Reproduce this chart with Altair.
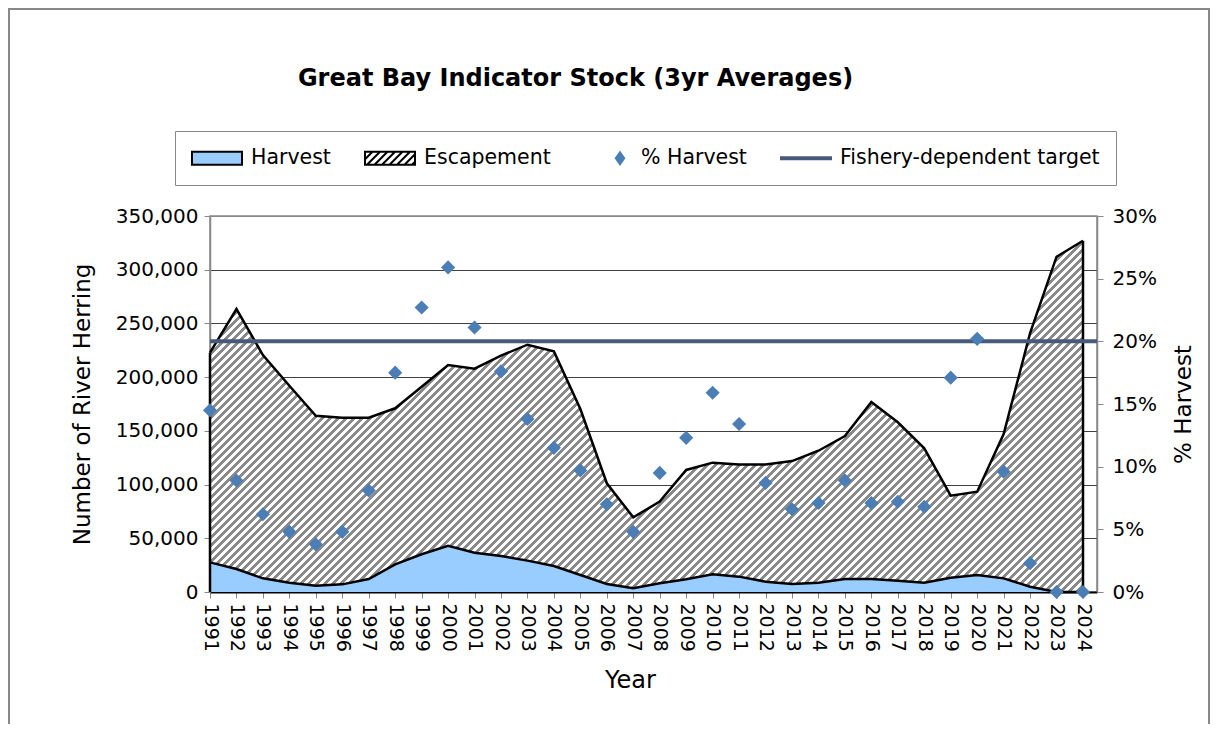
import altair as alt
import pandas as pd

# ---------------- data ----------------
YEARS = list(range(1991, 2025))
HARVEST = [27600, 21400, 12700, 8700, 5900, 7100, 12100, 25800, 35100, 43100,
           36600, 33500, 29200, 24200, 15800, 7400, 3400, 8100, 11800, 16500,
           14300, 9600, 7400, 8700, 12100, 12100, 10500, 8700, 13300, 15800,
           12700, 4900, 0, 0]
ESCAPEMENT = [195200, 242000, 207900, 183300, 158200, 155200, 150200, 145200, 156000, 168200,
              171300, 186500, 201000, 199800, 154500, 93800, 66100, 76000, 101800, 103900,
              104500, 109200, 114500, 122800, 133100, 164800, 147500, 125000, 76400, 77600,
              134400, 236100, 312100, 327000]
PCT_HARVEST = [14.5, 8.9, 6.2, 4.8, 3.8, 4.8, 8.1, 17.5, 22.7, 25.9,
               21.1, 17.6, 13.8, 11.5, 9.7, 7.0, 4.8, 9.5, 12.3, 15.9,
               13.4, 8.7, 6.6, 7.1, 8.9, 7.1, 7.2, 6.8, 17.1, 20.2,
               9.6, 2.3, 0.0, 0.0]
TARGET_PCT = 20.0
SERIES = ["Harvest", "Escapement", "% Harvest", "Fishery-dependent target"]
Y_TICKS = [0, 50000, 100000, 150000, 200000, 250000, 300000, 350000]
PCT_TICKS = [0, 5, 10, 15, 20, 25, 30]
TITLE = "Great Bay Indicator Stock (3yr Averages)"

# ---------------- styling / layout ----------------
FONT = "DejaVu Sans"
PLOT_W, PLOT_H = 887, 376
Y_MAX = 350000
X_MAX = YEARS[0] + (YEARS[-1] - YEARS[0]) * PLOT_W / 873.0
HARVEST_FILL = "#99ccff"
DIAMOND = "#4a7eb5"
SLATE = "#48597a"
HATCH = "#8a8a8a"

df = pd.DataFrame({"year": YEARS, "harvest": HARVEST, "escapement": ESCAPEMENT})
df["total"] = df["harvest"] + df["escapement"]
df["zero"] = 0
df["pct"] = [p / 100.0 for p in PCT_HARVEST]

# diagonal hatch for the escapement area, built as a striped linear gradient
W = (YEARS[-1] - YEARS[0]) / (X_MAX - YEARS[0]) * PLOT_W
H = df["total"].max() / Y_MAX * PLOT_H
a = W * (W + H) / (W * W + H * H)
n_per = int(round((W + H) / 8.0))
stops = []
for k in range(n_per):
    o0, o1, o2 = k / n_per, (k + 0.5) / n_per, (k + 1) / n_per
    stops += [{"offset": o0, "color": HATCH}, {"offset": o1, "color": HATCH},
              {"offset": o1, "color": "#ffffff"}, {"offset": o2, "color": "#ffffff"}]
hatch_grad = {"gradient": "linear", "x1": 0, "y1": 0, "x2": a, "y2": a * H / W, "stops": stops}

# legend symbol paths (unit = 10 px with symbolSize 400)
RECT = "M-1,-0.65H4V0.65H-1Z"


def hatch_path():
    parts = [RECT]
    x0 = -2.3
    while x0 < 4:
        xs, xe = max(x0, -1.0), min(x0 + 1.3, 4.0)
        if xe > xs:
            ys = 0.65 - (xs - x0)
            ye = 0.65 - (xe - x0)
            parts.append(f"M{xs:.3f},{ys:.3f}L{xe:.3f},{ye:.3f}")
        x0 += 0.75
    return "".join(parts)


DIAMOND_PATH = "M2.8,-0.6L3.22,0L2.8,0.6L2.38,0Z"
LINE_PATH = "M-1,-0.1H4V0.1H-1Z"

x_axis = alt.Axis(values=YEARS, format="d", labelAngle=90, labelAlign="left", labelBaseline="middle",
                  labelFontSize=19, labelPadding=5, tickSize=6, tickColor="#888888",
                  domainColor="black", domainWidth=2, grid=False, labelOverlap=False, labelFlush=False,
                  title="Year", titleFontSize=24, titleX=420, titleY=88, titleAlign="center",
                  titleBaseline="middle", titleFontWeight="normal")
x_enc = alt.X("year:Q", scale=alt.Scale(domain=[YEARS[0], X_MAX], nice=False, zero=False), axis=x_axis)

y_axis = alt.Axis(values=Y_TICKS, format=",d", labelFontSize=20, labelPadding=6, tickSize=6,
                  tickColor="#888888", domainColor="#888888", domainWidth=1.5, grid=True,
                  gridColor={"condition": {"test": f"datum.value >= {Y_MAX}", "value": "#888888"},
                             "value": "#404040"},
                  gridWidth=1, labelFlush=False, title="Number of River Herring", titleFontSize=23,
                  titleX=-128, titleY=PLOT_H / 2, titleAngle=270, titleAlign="center",
                  titleBaseline="middle", titleFontWeight="normal")
y_scale = alt.Scale(domain=[0, Y_MAX], nice=False)


def y_left(field):
    return alt.Y(f"{field}:Q", scale=y_scale, axis=y_axis)


r_axis = alt.Axis(orient="right", values=[p / 100.0 for p in PCT_TICKS], format=".0%", labelFontSize=20,
                  labelPadding=9, tickSize=6, tickColor="#888888", domainColor="#888888", domainWidth=1.5,
                  grid=False, labelFlush=False, title="% Harvest", titleFontSize=23, titleX=86,
                  titleY=PLOT_H / 2, titleAngle=270, titleAlign="center", titleBaseline="middle",
                  titleFontWeight="normal")
y_right = alt.Y("pct:Q", scale=alt.Scale(domain=[0, 0.30], nice=False), axis=r_axis)

base = alt.Chart(df)

frame = alt.Chart(pd.DataFrame({"f": [0]})).mark_rect(
    fill="white", fillOpacity=0, stroke="#888888", strokeWidth=2).encode(
    x=alt.value(-201), x2=alt.value(999), y=alt.value(-207), y2=alt.value(600))

harvest_area = base.mark_area(fill=HARVEST_FILL, strokeWidth=0).encode(x=x_enc, y=y_left("harvest"))
esc_area = base.mark_area(fill=hatch_grad, strokeWidth=0).encode(x=x_enc, y=y_left("total"), y2="harvest:Q")
harvest_line = base.mark_line(color="black", strokeWidth=2.5).encode(x=x_enc, y=y_left("harvest"))
total_line = base.mark_line(color="black", strokeWidth=2.5).encode(x=x_enc, y=y_left("total"))
end_rules = base.transform_filter(
    alt.FieldOneOfPredicate(field="year", oneOf=[YEARS[0], YEARS[-1]])
).mark_rule(color="black", strokeWidth=2.5).encode(x=x_enc, y=y_left("total"), y2="zero:Q")

target_rule = alt.Chart(pd.DataFrame({"pct": [TARGET_PCT / 100.0]})).mark_rule(
    color=SLATE, strokeWidth=4).encode(y=y_right)
points = base.mark_point(shape="diamond", filled=True, size=200, color=DIAMOND, opacity=1).encode(
    x=x_enc, y=y_right)

legend = alt.Legend(orient="none", legendX=-35, legendY=-85, direction="horizontal", title=None,
                    labelFont=FONT, labelFontSize=20.5, labelColor="black", labelOffset=38, labelLimit=500,
                    columnPadding=30, padding=16, strokeColor="#888888", fillColor="white",
                    symbolSize=400, symbolStrokeWidth=2, symbolOpacity=1)
legend_layer = alt.Chart(pd.DataFrame({"series": SERIES})).transform_filter("false").mark_point(
    filled=True, opacity=1).encode(
    color=alt.Color("series:N", scale=alt.Scale(domain=SERIES,
                    range=[HARVEST_FILL, "#ffffff", DIAMOND, SLATE]), legend=legend),
    stroke=alt.Stroke("series:N", scale=alt.Scale(domain=SERIES,
                      range=["#000000", "#000000", DIAMOND, SLATE]), legend=legend),
    shape=alt.Shape("series:N", scale=alt.Scale(domain=SERIES,
                    range=[RECT, hatch_path(), DIAMOND_PATH, LINE_PATH]), legend=legend),
)

left = alt.layer(frame, harvest_area, esc_area, harvest_line, total_line, end_rules)
right = alt.layer(target_rule, points, legend_layer)

chart = alt.layer(left, right).resolve_scale(y="independent").properties(
    width=PLOT_W, height=PLOT_H,
    autosize=alt.AutoSizeParams(type="none"),
    padding={"left": 202, "top": 208, "right": 114, "bottom": 132},
    title=alt.TitleParams(TITLE, font=FONT, fontSize=24, fontWeight="bold", color="black",
                          anchor="middle", frame="group", dx=-78, offset=-83),
).configure_axis(
    labelFont=FONT, titleFont=FONT, labelColor="black", titleColor="black"
).configure_view(
    stroke="#888888", strokeWidth=1.5
)

chart.save("out.html", embed_options={"renderer": "svg", "actions": False})
